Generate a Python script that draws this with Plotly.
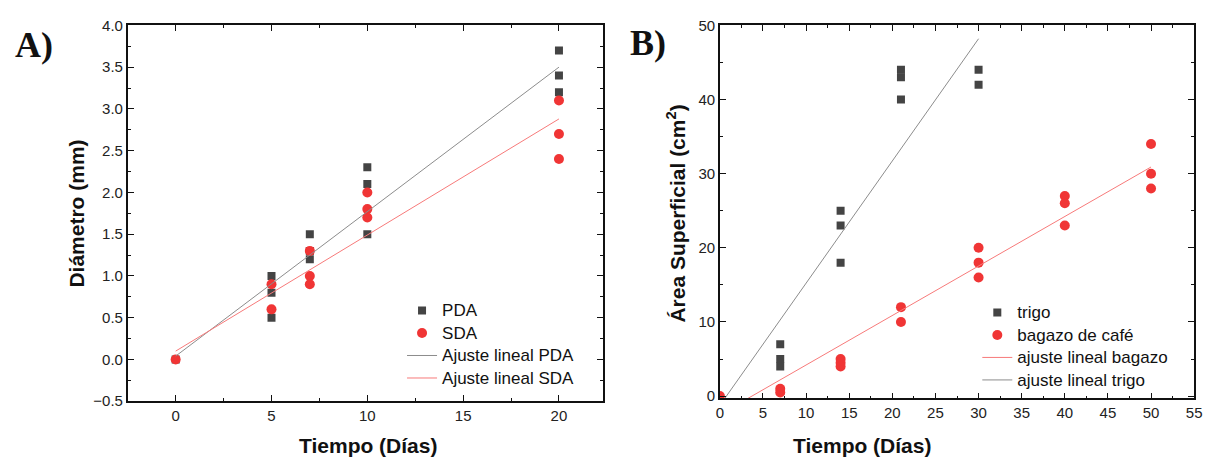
import plotly.graph_objects as go

W, H = 1217, 468

# ---------------- Panel A data ----------------
a_pda_x = [0, 5, 5, 5, 7, 7, 7, 10, 10, 10, 20, 20, 20]
a_pda_y = [0, 1.0, 0.8, 0.5, 1.5, 1.3, 1.2, 2.3, 2.1, 1.5, 3.7, 3.4, 3.2]
a_sda_x = [0, 5, 5, 7, 7, 7, 10, 10, 10, 20, 20, 20]
a_sda_y = [0, 0.9, 0.6, 1.3, 1.0, 0.9, 2.0, 1.8, 1.7, 3.1, 2.7, 2.4]
a_fit_x = [0, 20]
a_fit_pda = [0.04, 3.50]
a_fit_sda = [0.10, 2.88]

# ---------------- Panel B data ----------------
b_trigo_x = [7, 7, 7, 14, 14, 14, 21, 21, 21, 30, 30]
b_trigo_y = [7, 5, 4, 25, 23, 18, 44, 43, 40, 44, 42]
b_bag_x = [0, 7, 7, 14, 14, 14, 21, 21, 30, 30, 30, 40, 40, 40, 50, 50, 50]
b_bag_y = [0, 1.0, 0.5, 5, 4.5, 4, 12, 10, 20, 18, 16, 27, 26, 23, 34, 30, 28]
b_fit_trigo_x = [0, 30]
b_fit_trigo_y = [-1.25, 48.2]
b_fit_bag_x = [0, 50]
b_fit_bag_y = [-2.48, 30.9]

SQ = "#444444"
RD = "#f03535"
LGREY = "#8c8c8c"
LRED = "#f77a7a"
FONT = "Arial, Liberation Sans, sans-serif"


def px(x):
    return x / W


def py(y):
    return 1 - y / H


def lg(name):
    return '<span style="font-size:17px">' + name + '</span>'


fig = go.Figure()

# Panel A traces
fig.add_trace(go.Scatter(x=a_pda_x, y=a_pda_y, mode="markers", name=lg("PDA"),
                         marker=dict(symbol="square", size=8, color=SQ),
                         xaxis="x", yaxis="y", legend="legend"))
fig.add_trace(go.Scatter(x=a_sda_x, y=a_sda_y, mode="markers", name=lg("SDA"),
                         marker=dict(symbol="circle", size=10, color=RD),
                         xaxis="x", yaxis="y", legend="legend"))
fig.add_trace(go.Scatter(x=a_fit_x, y=a_fit_pda, mode="lines", name=lg("Ajuste lineal PDA"),
                         line=dict(color=LGREY, width=1),
                         xaxis="x", yaxis="y", legend="legend"))
fig.add_trace(go.Scatter(x=a_fit_x, y=a_fit_sda, mode="lines", name=lg("Ajuste lineal SDA"),
                         line=dict(color=LRED, width=1),
                         xaxis="x", yaxis="y", legend="legend"))

# Panel B traces
fig.add_trace(go.Scatter(x=b_trigo_x, y=b_trigo_y, mode="markers", name=lg("trigo"),
                         marker=dict(symbol="square", size=8, color=SQ),
                         xaxis="x2", yaxis="y2", legend="legend2"))
fig.add_trace(go.Scatter(x=b_bag_x, y=b_bag_y, mode="markers", name=lg("bagazo de café"),
                         marker=dict(symbol="circle", size=10, color=RD),
                         xaxis="x2", yaxis="y2", legend="legend2"))
fig.add_trace(go.Scatter(x=b_fit_bag_x, y=b_fit_bag_y, mode="lines", name=lg("ajuste lineal bagazo"),
                         line=dict(color=LRED, width=1),
                         xaxis="x2", yaxis="y2", legend="legend2"))
fig.add_trace(go.Scatter(x=b_fit_trigo_x, y=b_fit_trigo_y, mode="lines", name=lg("ajuste lineal trigo"),
                         line=dict(color=LGREY, width=1),
                         xaxis="x2", yaxis="y2", legend="legend2"))

axis_common = dict(showline=True, linecolor="#111", linewidth=1.6, mirror="ticks",
                   ticks="inside", ticklen=6, tickwidth=1.2, tickcolor="#111",
                   showgrid=False, zeroline=False,
                   tickfont=dict(family=FONT, size=15, color="#222"))

fig.update_layout(
    width=W, height=H,
    margin=dict(l=0, r=0, t=0, b=0),
    paper_bgcolor="white", plot_bgcolor="white",
    font=dict(family=FONT, color="#111"),
    xaxis=dict(domain=[px(125), px(605)], range=[-2.5, 22.3], dtick=5, tick0=0,
               minor=dict(dtick=2.5, ticks="inside", ticklen=3, tickcolor="#111"),
               anchor="y", **axis_common),
    yaxis=dict(domain=[py(407), py(17)], range=[-0.5, 4.0], dtick=0.5, tick0=0,
               tickformat=".1f",
               minor=dict(dtick=0.25, ticks="inside", ticklen=3, tickcolor="#111"),
               anchor="x", **axis_common),
    xaxis2=dict(domain=[px(723), px(1202)], range=[0, 55], dtick=5, tick0=0,
                minor=dict(dtick=2.5, ticks="inside", ticklen=3, tickcolor="#111"),
                anchor="y2", **axis_common),
    yaxis2=dict(domain=[py(404), py(17)], range=[-0.3, 50], dtick=10, tick0=0,
                minor=dict(dtick=5, ticks="inside", ticklen=3, tickcolor="#111"),
                anchor="x2", **axis_common),
    legend=dict(x=px(402), y=py(296), xanchor="left", yanchor="top",
                bgcolor="rgba(0,0,0,0)", font=dict(family=FONT, size=15, color="#111")),
    legend2=dict(x=px(983), y=py(298), xanchor="left", yanchor="top",
                 bgcolor="rgba(0,0,0,0)", font=dict(family=FONT, size=15, color="#111")),
    showlegend=True,
)

ann = []
# panel labels
lblfont = dict(family="Liberation Serif, Times New Roman, serif", size=36, color="#111")
ann.append(dict(text="<b>A)</b>", x=px(9), y=py(37), xref="paper", yref="paper",
                xanchor="left", yanchor="middle", showarrow=False, font=lblfont))
ann.append(dict(text="<b>B)</b>", x=px(630), y=py(35), xref="paper", yref="paper",
                xanchor="left", yanchor="middle", showarrow=False, font=lblfont))
# axis titles
tfont = dict(family=FONT, size=21, color="#111")
ann.append(dict(text="<b>Tiempo (Días)</b>", x=px(368), y=py(453), xref="paper", yref="paper",
                xanchor="center", yanchor="middle", showarrow=False, font=tfont))
ann.append(dict(text="<b>Tiempo (Días)</b>", x=px(867), y=py(453), xref="paper", yref="paper",
                xanchor="center", yanchor="middle", showarrow=False, font=tfont))
ann.append(dict(text="<b>Diámetro (mm)</b>", x=px(73), y=py(212), xref="paper", yref="paper",
                xanchor="center", yanchor="middle", showarrow=False, textangle=-90, font=tfont))
ann.append(dict(text="<b>Área Superficial (cm<sup>2</sup>)</b>", x=px(679), y=py(212),
                xref="paper", yref="paper",
                xanchor="center", yanchor="middle", showarrow=False, textangle=-90, font=tfont))
fig.update_layout(annotations=ann)

fig.write_html("out.html")
